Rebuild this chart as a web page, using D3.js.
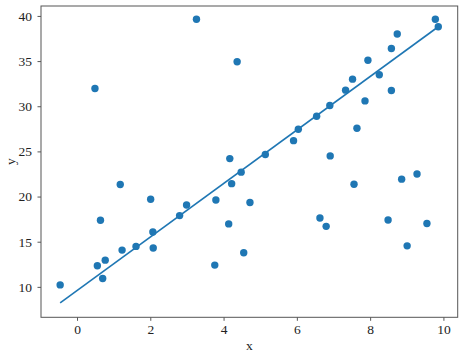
<!DOCTYPE html>
<html><head><meta charset="utf-8">
<script src="https://cdn.jsdelivr.net/npm/d3@7"></script>
<style>body{margin:0;background:#fff}</style>
</head><body>
<script>
const xs = [-0.46,0.49,0.555,0.64,0.70,0.77,1.18,1.23,1.61,2.01,2.07,2.08,2.80,2.99,3.26,3.76,3.79,4.14,4.17,4.22,4.37,4.48,4.55,4.72,5.14,5.91,6.04,6.54,6.63,6.80,6.90,6.91,7.33,7.52,7.56,7.64,7.86,7.94,8.25,8.49,8.58,8.58,8.74,8.86,9.01,9.28,9.55,9.78,9.86];
const ys = [10.22,31.97,12.33,17.37,10.93,12.96,21.33,14.07,14.48,19.70,16.07,14.30,17.89,19.07,39.63,12.41,19.62,16.97,24.2,21.43,34.92,22.7,13.78,19.35,24.65,26.19,27.45,28.89,17.63,16.70,30.08,24.5,31.78,33.0,21.37,27.56,30.59,35.1,33.48,17.41,36.4,31.74,38.0,21.93,14.54,22.5,17.02,39.63,38.8];
const lineX = [-0.46, 9.86];
const lineY = [8.22, 38.8];
const xTicks = [0,2,4,6,8,10];
const yTicks = [10,15,20,25,30,35,40];

const W=462,H=355;
const m={l:41,t:6,r:4.3,b:37.7};
const svg=d3.select("body").append("svg").attr("width",W).attr("height",H);
const x=d3.scaleLinear().domain([-0.983,10.39]).range([m.l,W-m.r]);
const y=d3.scaleLinear().domain([6.63,41.1]).range([H-m.b,m.t]);
const font="'Liberation Serif','Times New Roman',serif";
const fs=13.5;

const gx=svg.append("g").attr("transform",`translate(0,${H-m.b})`)
  .call(d3.axisBottom(x).tickValues(xTicks).tickSize(3.5).tickPadding(4).tickFormat(d3.format("d")));
const gy=svg.append("g").attr("transform",`translate(${m.l},0)`)
  .call(d3.axisLeft(y).tickValues(yTicks).tickSize(3.5).tickPadding(5.5).tickFormat(d3.format("d")));
[gx,gy].forEach(g=>{
  g.select(".domain").remove();
  g.selectAll("line").attr("stroke","#444").attr("stroke-width",0.9);
  g.selectAll("text").attr("font-family",font).attr("font-size",fs).attr("fill","#222");
});

svg.append("rect").attr("x",m.l).attr("y",m.t).attr("width",W-m.l-m.r).attr("height",H-m.t-m.b)
  .attr("fill","none").attr("stroke","#555").attr("stroke-width",1);

svg.append("path").datum(lineX.map((d,i)=>[d,lineY[i]]))
  .attr("d",d3.line().x(d=>x(d[0])).y(d=>y(d[1])))
  .attr("stroke","#1f77b4").attr("stroke-width",1.6).attr("fill","none");

svg.append("g").selectAll("circle").data(xs.map((d,i)=>[d,ys[i]])).join("circle")
  .attr("cx",d=>x(d[0])).attr("cy",d=>y(d[1])).attr("r",3.7).attr("fill","#1f77b4");

svg.append("text").attr("x",(m.l+W-m.r)/2).attr("y",350).attr("text-anchor","middle")
  .attr("font-family",font).attr("font-size",fs).attr("fill","#222").text("x");
svg.append("text").attr("transform",`translate(15,${(m.t+H-m.b)/2}) rotate(-90)`).attr("text-anchor","middle")
  .attr("font-family",font).attr("font-size",fs).attr("fill","#222").text("y");
</script>
</body></html>
